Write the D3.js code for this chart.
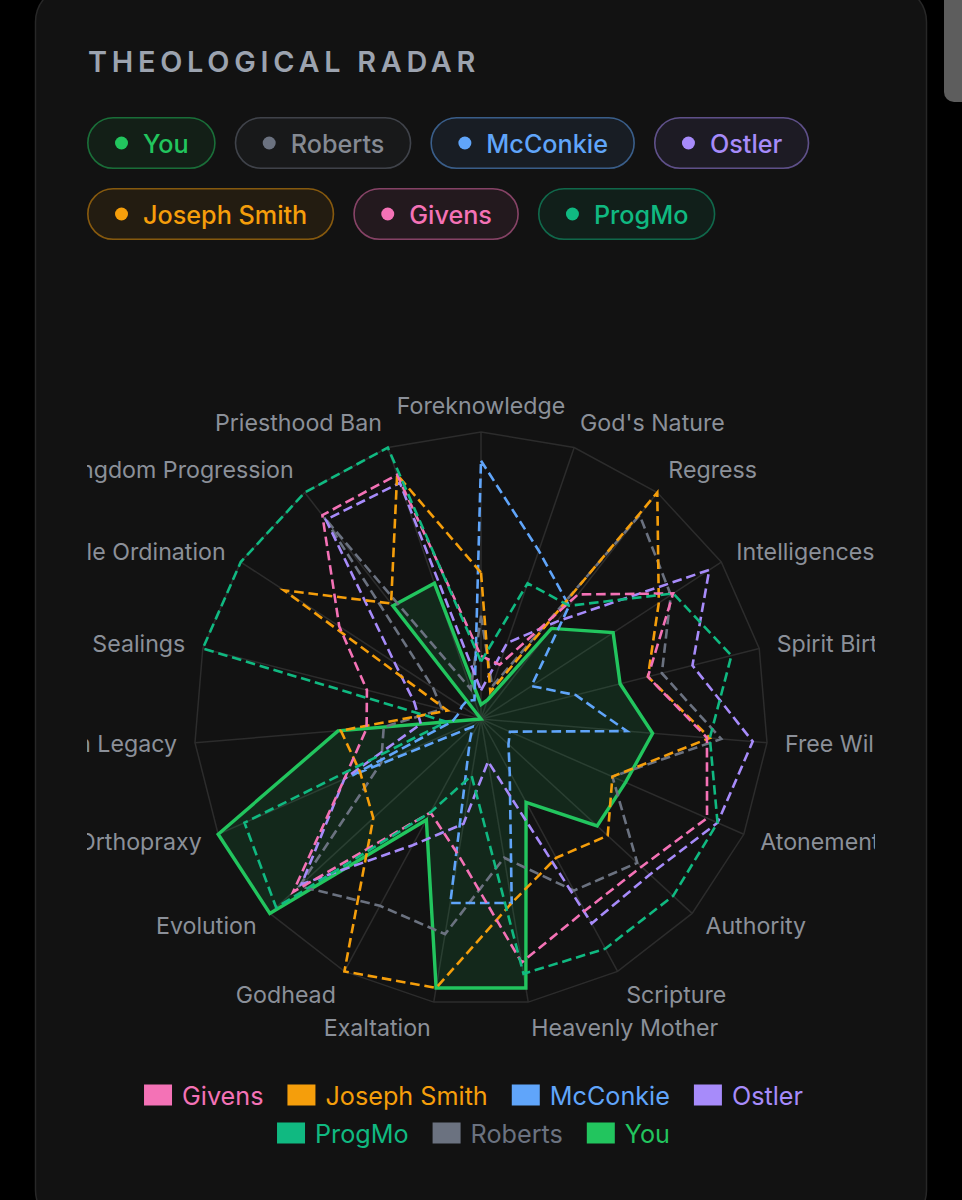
<!DOCTYPE html>
<html><head><meta charset="utf-8">
<script src="https://cdn.jsdelivr.net/npm/d3@7/dist/d3.min.js"></script>
<style>
html,body{margin:0;padding:0;background:#000;width:962px;height:1200px;overflow:hidden;}
svg text{font-family:Inter,"Noto Sans",sans-serif;}
</style></head><body>
<svg id="chart" width="962" height="1200"></svg>
<script>
const axes = ["Foreknowledge","God's Nature","Regress","Intelligences","Spirit Birth","Free Will","Atonement","Authority","Scripture","Heavenly Mother","Exaltation","Godhead","Evolution","Orthopraxy","Brigham Legacy","Sealings","Female Ordination","Inter-Kingdom Progression","Priesthood Ban"];
const seriesNames = ["You","Roberts","McConkie","Ostler","Joseph Smith","Givens","ProgMo"];
const seriesColors = ["#22c55e","#6b7280","#60a5fa","#a78bfa","#f59e0b","#f472b6","#10b981"];
const you         = [5, 7, 40, 55, 50, 60, 55, 55, 33, 95, 95, 40, 100, 100, 50, 0, 0, 50, 50];
const roberts     = [36, 12, 90, 79, 65, 84, 50, 74, 68, 49, 76, 74, 86, 38, 34, 14, 20, 89, 11];
const mcconkie    = [90, 62, 50, 21, 34, 51, 11, 13, 21, 65, 65, 8, 4, 49, 10, 8, 8, 8, 7];
const ostler      = [10, 28, 43, 95, 76, 95, 90, 80, 81, 15, 37, 50, 85, 52, 21, 24, 36, 88, 87];
const josephSmith = [51, 10, 100, 74, 60, 80, 50, 60, 55, 65, 95, 100, 51, 46, 49, 12, 82, 51, 90];
const givens      = [22, 20, 55, 80, 60, 79, 86, 76, 76, 86, 48, 37, 89, 52, 40, 41, 59, 90, 90];
const progMo      = [20, 50, 50, 80, 90, 80, 90, 91, 91, 90, 20, 37, 97, 90, 12, 100, 100, 100, 100];
const seriesValues = [you, roberts, mcconkie, ostler, josephSmith, givens, progMo];
const legendOrder = ["Givens","Joseph Smith","McConkie","Ostler","ProgMo","Roberts","You"];

const W = 962, H = 1200;
const svg = d3.select("#chart");
svg.append("rect").attr("width", W).attr("height", H).attr("fill", "#000");
svg.append("rect").attr("x", 35.5).attr("y", -14).attr("width", 891).attr("height", 1240)
  .attr("rx", 36).attr("fill", "#121212").attr("stroke", "#272727").attr("stroke-width", 1.5);
svg.append("rect").attr("x", 944).attr("y", -20).attr("width", 30).attr("height", 122)
  .attr("rx", 10).attr("fill", "#5d5d5d");

svg.append("text").attr("x", 88).attr("y", 61).attr("dominant-baseline", "central")
  .attr("font-size", 28.8).attr("font-weight", 600).attr("letter-spacing", "0.165em")
  .attr("fill", "#9ca3af").text("THEOLOGICAL RADAR");

const colorOf = n => seriesColors[seriesNames.indexOf(n)];
const pillFont = 25.2;

// pills
(function(){
  let px = 87, py = 117; const ph = 52, gx = 19, gy = 19, maxX = 875;
  seriesNames.forEach((n, i) => {
    const c = seriesColors[i];
    const g = svg.append("g");
    const t = g.append("text").text(n).attr("font-size", pillFont).attr("font-weight", 500)
      .attr("fill", n === "Roberts" ? "#858a93" : c).attr("dominant-baseline", "central");
    const tw = t.node().getComputedTextLength();
    const w = 28 + 13 + 15 + tw + 27;
    if (px + w > maxX) { px = 87; py += ph + gy; }
    g.attr("transform", `translate(${px},${py})`);
    g.insert("rect", "text").attr("x", 0.8).attr("y", 0.8).attr("width", w - 1.6).attr("height", ph - 1.6)
      .attr("rx", (ph - 1.6) / 2).attr("fill", c).attr("fill-opacity", 0.08)
      .attr("stroke", c).attr("stroke-opacity", 0.5).attr("stroke-width", 1.6);
    g.append("circle").attr("cx", 28 + 6.5).attr("cy", ph / 2).attr("r", 6.5).attr("fill", c);
    t.attr("x", 28 + 13 + 15).attr("y", ph / 2 + 1);
    px += w + gx;
  });
})();

// radar
const cx = 481, cy = 719, R = 287;
const rScale = d3.scaleLinear().domain([0, 100]).range([0, R]);
const aScale = d3.scaleLinear().domain([0, axes.length]).range([0, 2 * Math.PI]);
svg.append("clipPath").attr("id", "clipChart").append("rect")
  .attr("x", 87).attr("y", 280).attr("width", 788).attr("height", 800);
const chart = svg.append("g").attr("clip-path", "url(#clipChart)");
const g = chart.append("g").attr("transform", `translate(${cx},${cy})`);
const gridColor = "#2c2c2c";
axes.forEach((a, i) => {
  const ang = aScale(i);
  g.append("line").attr("x1", 0).attr("y1", 0)
    .attr("x2", rScale(100) * Math.sin(ang)).attr("y2", -rScale(100) * Math.cos(ang))
    .attr("stroke", gridColor).attr("stroke-width", 1.5);
});
const radial = d3.lineRadial().angle((d, i) => aScale(i)).radius(d => rScale(d)).curve(d3.curveLinearClosed);
g.append("path").attr("d", radial(axes.map(() => 100))).attr("fill", "none")
  .attr("stroke", gridColor).attr("stroke-width", 1.5);

seriesNames.forEach((n, i) => {
  const isYou = n === "You";
  g.append("path").attr("d", radial(seriesValues[i]))
    .attr("fill", isYou ? seriesColors[i] : "none").attr("fill-opacity", isYou ? 0.13 : 0)
    .attr("stroke", seriesColors[i]).attr("stroke-width", isYou ? 3.4 : 2.6)
    .attr("stroke-linejoin", "miter")
    .attr("stroke-dasharray", isYou ? null : "9.6 4.8");
});

axes.forEach((a, i) => {
  const ang = aScale(i), s = Math.sin(ang), c = Math.cos(ang);
  const shift = c > 0.7 ? -8 : (c < -0.7 ? 8 : 0);
  g.append("text").attr("x", 305 * s).attr("y", -305 * c + shift)
    .attr("text-anchor", Math.abs(s) < 0.01 ? "middle" : (s > 0 ? "start" : "end"))
    .attr("dominant-baseline", "central").attr("font-size", 23.2)
    .attr("fill", "#8b9099").text(a);
});

// bottom legend
(function(){
  const items = legendOrder.map(n => {
    const gi = svg.append("g");
    const t = gi.append("text").text(n).attr("font-size", pillFont).attr("fill", colorOf(n))
      .attr("dominant-baseline", "central").attr("x", 38).attr("y", 1);
    gi.append("rect").attr("x", 0).attr("y", -10.5).attr("width", 28).attr("height", 21).attr("fill", colorOf(n));
    const w = 38 + t.node().getComputedTextLength() + 24;
    return {gi, w};
  });
  const rows = []; let cur = [], curW = 0; const maxW = 788;
  items.forEach(it => {
    if (curW + it.w > maxW && cur.length) { rows.push({cur, curW}); cur = []; curW = 0; }
    cur.push(it); curW += it.w;
  });
  rows.push({cur, curW});
  rows.forEach((r, ri) => {
    let x = 485.5 - r.curW / 2; const y = 1095 + ri * 38;
    r.cur.forEach(it => { it.gi.attr("transform", `translate(${x},${y})`); x += it.w; });
  });
})();
</script>
</body></html>
